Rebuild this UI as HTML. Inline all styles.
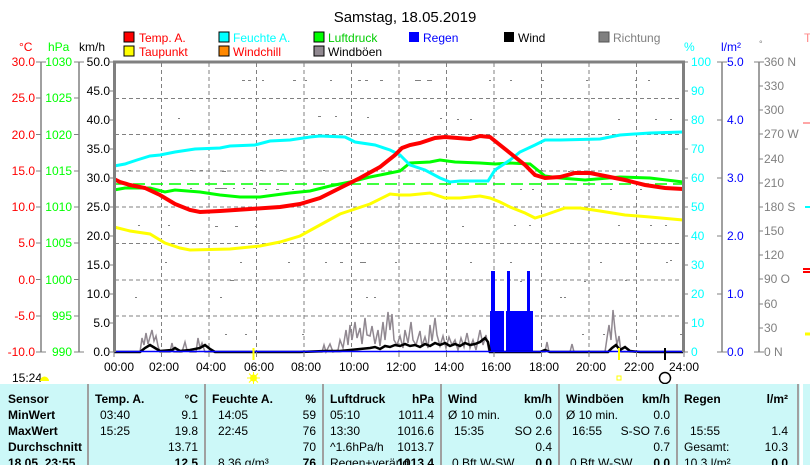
<!DOCTYPE html>
<html><head><meta charset="utf-8"><style>
html,body{margin:0;padding:0;background:#fff;}
svg{display:block;font-family:"Liberation Sans",sans-serif;}
.t{font-size:12px;}
.b{font-size:12px;font-weight:bold;}
</style></head><body>
<svg width="810" height="465" viewBox="0 0 810 465" xmlns="http://www.w3.org/2000/svg">
<rect width="810" height="465" fill="#fff"/>
<text x="405" y="22" font-size="15" text-anchor="middle" fill="#000">Samstag, 18.05.2019</text>
<!-- legend -->
<g class="t">
<rect x="124" y="32" width="10" height="10" fill="#f00" stroke="#000"/><text x="139" y="42" fill="#f00">Temp. A.</text>
<rect x="219" y="32" width="10" height="10" fill="#0ff" stroke="#000"/><text x="233" y="42" fill="#0ff">Feuchte A.</text>
<rect x="314" y="32" width="10" height="10" fill="#0f0" stroke="#000"/><text x="328" y="42" fill="#0c0">Luftdruck</text>
<rect x="409" y="32" width="10" height="10" fill="#00f"/><text x="423" y="42" fill="#00f">Regen</text>
<rect x="504" y="32" width="10" height="10" fill="#000"/><text x="518" y="42" fill="#000">Wind</text>
<rect x="599" y="32" width="10" height="10" fill="#808080" stroke="#555"/><text x="613" y="42" fill="#808080">Richtung</text>
<rect x="124" y="46" width="10" height="10" fill="#ff0" stroke="#000"/><text x="139" y="56" fill="#f00">Taupunkt</text>
<rect x="219" y="46" width="10" height="10" fill="#f80" stroke="#000"/><text x="233" y="56" fill="#f00">Windchill</text>
<rect x="314" y="46" width="10" height="10" fill="#908890" stroke="#000"/><text x="328" y="56" fill="#000">Windböen</text>
</g>
<text x="804" y="42" font-size="12" fill="#f88">T</text>
<!-- axis headers -->
<g class="t">
<text x="19" y="51" fill="#f00">°C</text>
<text x="48" y="51" fill="#0f0">hPa</text>
<text x="79" y="51" fill="#000">km/h</text>
<text x="684" y="51" fill="#0ff">%</text>
<text x="721" y="51" fill="#00f">l/m²</text>
<text x="759" y="47" fill="#808080" font-size="9">°</text>
</g>
<!-- left axes -->
<g stroke="#808080" stroke-width="1.5">
<line x1="41" y1="62" x2="41" y2="352"/><line x1="79" y1="62" x2="79" y2="352"/>
<line x1="722" y1="62" x2="722" y2="352"/><line x1="759" y1="62" x2="759" y2="352"/>
</g>
<g class="t" text-anchor="end">
<g fill="#f00">
<text x="35" y="66">30.0</text><text x="35" y="102">25.0</text><text x="35" y="139">20.0</text><text x="35" y="175">15.0</text><text x="35" y="211">10.0</text><text x="35" y="247">5.0</text><text x="35" y="284">0.0</text><text x="35" y="320">-5.0</text><text x="35" y="356">-10.0</text>
</g>
<g fill="#0f0">
<text x="72" y="66">1030</text><text x="72" y="102">1025</text><text x="72" y="139">1020</text><text x="72" y="175">1015</text><text x="72" y="211">1010</text><text x="72" y="247">1005</text><text x="72" y="284">1000</text><text x="72" y="320">995</text><text x="72" y="356">990</text>
</g>
<g fill="#000">
<text x="110" y="66">50.0</text><text x="110" y="95">45.0</text><text x="110" y="124">40.0</text><text x="110" y="153">35.0</text><text x="110" y="182">30.0</text><text x="110" y="211">25.0</text><text x="110" y="240">20.0</text><text x="110" y="269">15.0</text><text x="110" y="298">10.0</text><text x="110" y="327">5.0</text><text x="110" y="356">0.0</text>
</g>
</g>
<g stroke="#808080" stroke-width="1">
<path d="M36 62h10M36 98h5M36 134.5h5M36 171h5M36 207h5M36 243h5M36 279.5h5M36 316h5M36 352h10"/>
<path d="M74 62h10M74 98h5M74 134.5h5M74 171h5M74 207h5M74 243h5M74 279.5h5M74 316h5M74 352h10"/>
<path d="M110 62h4M110 91h4M110 120h4M110 149h4M110 178h4M110 207h4M110 236h4M110 265h4M110 294h4M110 323h4M110 352h4"/>
<path d="M684 62h4M684 91h4M684 120h4M684 149h4M684 178h4M684 207h4M684 236h4M684 265h4M684 294h4M684 323h4M684 352h4"/>
<path d="M717 62h10M717 120h5M717 178h5M717 236h5M717 294h5M717 352h10"/>
<path d="M754 62h10M759 86h4M759 110h4M759 134h4M759 159h4M759 183h4M759 207h4M759 231h4M759 255h4M759 279h4M759 304h4M759 328h4M754 352h10"/>
</g>
<g class="t" fill="#0ff">
<text x="691" y="66">100</text><text x="691" y="95">90</text><text x="691" y="124">80</text><text x="691" y="153">70</text><text x="691" y="182">60</text><text x="691" y="211">50</text><text x="691" y="240">40</text><text x="691" y="269">30</text><text x="691" y="298">20</text><text x="691" y="327">10</text><text x="691" y="356">0</text>
</g>
<g class="t" fill="#00f">
<text x="727" y="66">5.0</text><text x="727" y="124">4.0</text><text x="727" y="182">3.0</text><text x="727" y="240">2.0</text><text x="727" y="298">1.0</text><text x="727" y="356">0.0</text>
</g>
<g class="t" fill="#808080">
<text x="764" y="66">360 N</text><text x="764" y="90">330</text><text x="764" y="114">300</text><text x="764" y="138">270 W</text><text x="764" y="163">240</text><text x="764" y="187">210</text><text x="764" y="211">180 S</text><text x="764" y="235">150</text><text x="764" y="259">120</text><text x="764" y="283">90  O</text><text x="764" y="308">60</text><text x="764" y="332">30</text><text x="764" y="356">0   N</text>
</g>
<!-- grid -->
<g stroke="#808080" stroke-width="1" stroke-dasharray="4,3">
<path d="M161.5 63V352M209 63V352M256.5 63V352M304 63V352M351.5 63V352M399 63V352M446.5 63V352M494 63V352M541.5 63V352M589 63V352M636.5 63V352"/>
<path d="M115 98.5H683M115 134.5H683M115 171H683M115 207H683M115 243.5H683M115 280H683M115 316H683"/>
</g>
<!-- direction dots -->
<g fill="#808080">
<rect x="242" y="80" width="3" height="1"/><rect x="248" y="80" width="3" height="1"/><rect x="262" y="80" width="2" height="1"/><rect x="293" y="80" width="3" height="1"/><rect x="305" y="80" width="2" height="1"/><rect x="330" y="80" width="2" height="1"/><rect x="358" y="80" width="3" height="1"/><rect x="365" y="80" width="3" height="1"/><rect x="380" y="80" width="3" height="1"/><rect x="415" y="80" width="6" height="1"/><rect x="427" y="80" width="5" height="1"/><rect x="489" y="80" width="2" height="1"/><rect x="510" y="80" width="2" height="1"/><rect x="542" y="80" width="2" height="1"/><rect x="586" y="80" width="2" height="1"/><rect x="635" y="80" width="2" height="1"/><rect x="648" y="80" width="2" height="1"/>
<rect x="178" y="118" width="2" height="1"/><rect x="318" y="116" width="3" height="1"/><rect x="335" y="116" width="2" height="1"/><rect x="367" y="117" width="2" height="1"/><rect x="440" y="118" width="2" height="1"/><rect x="457" y="119" width="2" height="1"/><rect x="470" y="119" width="2" height="1"/><rect x="618" y="119" width="2" height="1"/><rect x="655" y="119" width="2" height="1"/><rect x="670" y="119" width="2" height="1"/>
<rect x="128" y="170" width="3" height="1"/><rect x="190" y="170" width="3" height="1"/><rect x="200" y="170" width="3" height="1"/><rect x="222" y="171" width="4" height="1"/><rect x="260" y="170" width="3" height="1"/><rect x="280" y="170" width="3" height="1"/><rect x="323" y="170" width="2" height="1"/><rect x="470" y="171" width="2" height="1"/><rect x="540" y="170" width="3" height="1"/><rect x="568" y="171" width="2" height="1"/>
<rect x="190" y="188" width="2" height="1"/><rect x="215" y="188" width="12" height="1"/><rect x="233" y="188" width="2" height="1"/><rect x="243" y="188" width="2" height="1"/><rect x="253" y="188" width="3" height="1"/><rect x="265" y="189" width="2" height="1"/><rect x="276" y="189" width="3" height="1"/><rect x="292" y="189" width="2" height="1"/><rect x="520" y="189" width="2" height="1"/><rect x="532" y="189" width="2" height="1"/><rect x="610" y="189" width="2" height="1"/><rect x="640" y="189" width="2" height="1"/>
<rect x="138" y="225" width="2" height="1"/><rect x="168" y="225" width="2" height="1"/><rect x="215" y="226" width="3" height="1"/><rect x="235" y="226" width="3" height="1"/><rect x="255" y="226" width="2" height="1"/><rect x="350" y="226" width="2" height="1"/><rect x="462" y="226" width="2" height="1"/><rect x="514" y="225" width="2" height="1"/><rect x="529" y="225" width="2" height="1"/><rect x="618" y="225" width="2" height="1"/><rect x="650" y="225" width="2" height="1"/><rect x="665" y="225" width="2" height="1"/>
<rect x="165" y="262" width="2" height="1"/><rect x="240" y="262" width="2" height="1"/><rect x="288" y="262" width="2" height="1"/><rect x="325" y="262" width="2" height="1"/><rect x="340" y="262" width="3" height="1"/><rect x="360" y="262" width="6" height="1"/><rect x="395" y="262" width="2" height="1"/><rect x="470" y="262" width="2" height="1"/><rect x="510" y="262" width="2" height="1"/><rect x="600" y="262" width="2" height="1"/><rect x="666" y="262" width="2" height="1"/>
<rect x="230" y="280" width="4" height="1"/><rect x="520" y="281" width="2" height="1"/><rect x="584" y="281" width="2" height="1"/><rect x="625" y="280" width="2" height="1"/><rect x="670" y="260" width="2" height="1"/>
<rect x="135" y="297" width="2" height="1"/><rect x="220" y="297" width="2" height="1"/><rect x="366" y="297" width="2" height="1"/><rect x="374" y="297" width="2" height="1"/><rect x="560" y="297" width="2" height="1"/><rect x="564" y="297" width="2" height="1"/>
<rect x="225" y="334" width="2" height="1"/><rect x="245" y="334" width="2" height="1"/><rect x="302" y="334" width="2" height="1"/><rect x="582" y="334" width="2" height="1"/><rect x="603" y="334" width="2" height="1"/><rect x="680" y="334" width="2" height="1"/>
</g>
<!-- rain -->
<g fill="#00f">
<rect x="490" y="311" width="14" height="41"/><rect x="491" y="271" width="4" height="40"/>
<rect x="506" y="311" width="12" height="41"/><rect x="507" y="271" width="3" height="40"/>
<rect x="518" y="311" width="15" height="41"/><rect x="527" y="271" width="3" height="40"/>
</g>
<!-- gusts -->
<polyline fill="none" stroke="#908890" stroke-width="1.5" points="114,352 140,352 142,338 144,345 146,333 148,344 150,337 152,330 154,341 156,336 158,346 160,352 170,352 172,343 174,352 182,352 185,342 187,350 190,352 196,352 198,338 200,348 202,343 205,352 322,352 324,345 326,352 330,344 333,352 338,350 340,340 343,348 346,330 348,345 350,325 352,340 355,322 357,338 360,328 362,344 365,318 367,335 370,336 372,326 375,344 378,330 380,346 383,322 385,340 388,312 390,330 392,314 394,340 397,345 400,336 403,348 405,330 408,343 411,322 413,340 416,345 420,331 422,346 425,337 428,348 430,325 432,341 435,318 437,335 440,346 443,336 446,348 449,337 452,345 455,340 458,350 461,338 464,347 467,333 470,348 473,340 476,350 480,330 483,345 486,335 489,352 545,352 547,342 549,352 570,352 572,344 574,352 605,352 607,338 609,325 611,340 613,310 615,330 617,345 619,336 621,352 683,352"/>
<!-- wind -->
<polyline fill="none" stroke="#000" stroke-width="2.5" points="114,352 140,352 145,348 150,345 155,348 160,351 172,350 175,348 180,351 190,350 200,348 205,345 210,349 215,352 300,352 325,351 340,351 350,350 360,349 370,348 375,347 380,349 385,346 390,347 395,345 400,346 405,344 410,346 415,345 420,347 425,344 430,346 435,343 440,345 445,343 450,346 455,344 460,346 465,343 470,345 475,344 480,342 485,338 488,342 490,352 540,352 545,350 550,352 608,352 612,348 616,345 620,350 625,347 630,351 640,352 683,352"/>
<line x1="114" y1="351.5" x2="684" y2="351.5" stroke="#00f" stroke-width="1.5"/>
<!-- pressure dashed -->
<line x1="115" y1="184" x2="683" y2="184" stroke="#0f0" stroke-width="1.5" stroke-dasharray="12,6"/>
<!-- series -->
<polyline fill="none" stroke="#ff0" stroke-width="3" points="114,227 130,231 150,234 165,243 180,248 190,250 230,249 260,246 280,242 300,236 320,225 340,214 370,204 390,194 400,195 410,195 430,193 445,198 460,198 480,196 490,198 500,202 510,207 525,213 535,218 545,215 565,208 580,208 600,211 625,215 650,217 683,220"/>
<polyline fill="none" stroke="#0f0" stroke-width="3" points="114,190 125,188 150,188 165,192 175,190 200,192 220,195 240,197 260,197 290,193 310,191 330,186 350,182 370,177 400,171 410,163 430,162 440,160 455,162 480,163 495,164 510,163 530,164 545,176 560,178 585,180 620,177 650,178 683,182"/>
<polyline fill="none" stroke="#0ff" stroke-width="3" points="114,166 125,164 137,160 150,156 160,155 175,152 195,149 220,148 230,146 255,145 270,141 290,140 310,137 320,136 345,137 355,142 375,145 390,150 400,155 410,165 425,170 440,178 450,182 460,181 488,181 495,170 510,160 520,152 535,145 545,140 560,140 600,139 620,135 650,133 683,132"/>
<polyline fill="none" stroke="#f00" stroke-width="4" points="114,179 120,182 130,185 145,188 160,195 175,204 190,210 200,212 220,211 250,209 280,207 300,204 320,198 340,188 360,178 380,167 395,155 402,148 410,145 420,143 435,138 445,137 470,139 480,136 490,137 500,145 510,153 525,165 535,175 545,178 560,177 575,173 590,173 605,176 625,180 645,185 665,188 683,189"/>
<!-- frame -->
<path d="M114.5 352V62H683.5V352" fill="none" stroke="#808080" stroke-width="3"/>
<!-- x labels -->
<g class="t" text-anchor="middle" fill="#000">
<path d="M114 352v5M161.5 352v5M209 352v5M256.5 352v5M304 352v5M351.5 352v5M399 352v5M446.5 352v5M494 352v5M541.5 352v5M589 352v5M636.5 352v5M684 352v5" stroke="#808080"/>
<text x="119" y="371">00:00</text><text x="164" y="371">02:00</text><text x="211" y="371">04:00</text><text x="259" y="371">06:00</text><text x="306" y="371">08:00</text><text x="354" y="371">10:00</text><text x="401" y="371">12:00</text><text x="449" y="371">14:00</text><text x="496" y="371">16:00</text><text x="544" y="371">18:00</text><text x="591" y="371">20:00</text><text x="639" y="371">22:00</text><text x="684" y="371">24:00</text>
</g>
<!-- sun/moon markers -->
<line x1="253.5" y1="348" x2="253.5" y2="360" stroke="#ff0" stroke-width="2"/>
<circle cx="253.5" cy="378" r="3.5" fill="#ff0"/>
<g stroke="#ff0" stroke-width="1"><path d="M247 378h13M253.5 372v13M249 373.5l9 9M258 373.5l-9 9"/></g>
<line x1="619" y1="348" x2="619" y2="360" stroke="#ff0" stroke-width="2"/>
<rect x="617" y="376" width="4" height="4" fill="none" stroke="#ff0"/>
<line x1="665" y1="348" x2="665" y2="360" stroke="#000" stroke-width="2"/>
<circle cx="665" cy="378" r="5.5" fill="none" stroke="#000" stroke-width="1.5"/>
<text x="12" y="382" class="t">15:24</text>
<path d="M40 381a4 4 0 0 1 9 0z" fill="#ff0"/>
<!-- right partial curves -->
<path d="M803 123h7" stroke="#f88" stroke-width="1.5"/>
<path d="M805 207h5" stroke="#0ff" stroke-width="2"/>
<path d="M803 269h7M803 272h7" stroke="#f00" stroke-width="2"/>
<path d="M805 334h5" stroke="#ff0" stroke-width="3"/>
<!-- table -->
<rect x="0" y="384" width="800" height="81" fill="#ccf8f8"/>
<rect x="803" y="384" width="7" height="81" fill="#ccf8f8"/>
<g stroke="#a0a0a0" stroke-width="2">
<path d="M88 384V465M205 384V465M323 384V465M441 384V465M559 384V465M677 384V465M798 384V465"/>
</g>
<g class="b" fill="#000">
<text x="8" y="403">Sensor</text><text x="8" y="419">MinWert</text><text x="8" y="435">MaxWert</text><text x="8" y="451">Durchschnitt</text><text x="8" y="467">18.05. 23:55</text>
<text x="95" y="403">Temp. A.</text><text x="212" y="403">Feuchte A.</text><text x="330" y="403">Luftdruck</text><text x="448" y="403">Wind</text><text x="566" y="403">Windböen</text><text x="684" y="403">Regen</text>
</g>
<g class="b" fill="#000" text-anchor="end">
<text x="198" y="403">°C</text><text x="316" y="403">%</text><text x="434" y="403">hPa</text><text x="552" y="403">km/h</text><text x="670" y="403">km/h</text><text x="788" y="403">l/m²</text>
<text x="198" y="467">12.5</text><text x="316" y="467">76</text><text x="434" y="467">1013.4</text><text x="552" y="467">0.0</text><text x="670" y="467">0.0</text><text x="788" y="467">0.0</text>
</g>
<g class="t" fill="#000">
<text x="100" y="419">03:40</text><text x="100" y="435">15:25</text>
<text x="218" y="419">14:05</text><text x="218" y="435">22:45</text><text x="218" y="467">8.36 g/m³</text>
<text x="330" y="419">05:10</text><text x="330" y="435">13:30</text><text x="330" y="451">^1.6hPa/h</text><text x="330" y="467">Regen+veränd</text>
<text x="448" y="419">Ø 10 min.</text><text x="454" y="435">15:35</text><text x="452" y="467">0 Bft W-SW</text>
<text x="566" y="419">Ø 10 min.</text><text x="572" y="435">16:55</text><text x="570" y="467">0 Bft W-SW</text>
<text x="690" y="435">15:55</text><text x="684" y="451">Gesamt:</text><text x="684" y="467">10.3 l/m²</text>
</g>
<g class="t" fill="#000" text-anchor="end">
<text x="198" y="419">9.1</text><text x="198" y="435">19.8</text><text x="198" y="451">13.71</text>
<text x="316" y="419">59</text><text x="316" y="435">76</text><text x="316" y="451">70</text>
<text x="434" y="419">1011.4</text><text x="434" y="435">1016.6</text><text x="434" y="451">1013.7</text>
<text x="552" y="419">0.0</text><text x="552" y="435">SO 2.6</text><text x="552" y="451">0.4</text>
<text x="670" y="419">0.0</text><text x="670" y="435">S-SO 7.6</text><text x="670" y="451">0.7</text>
<text x="788" y="435">1.4</text><text x="788" y="451">10.3</text>
</g>
</svg>
</body></html>
